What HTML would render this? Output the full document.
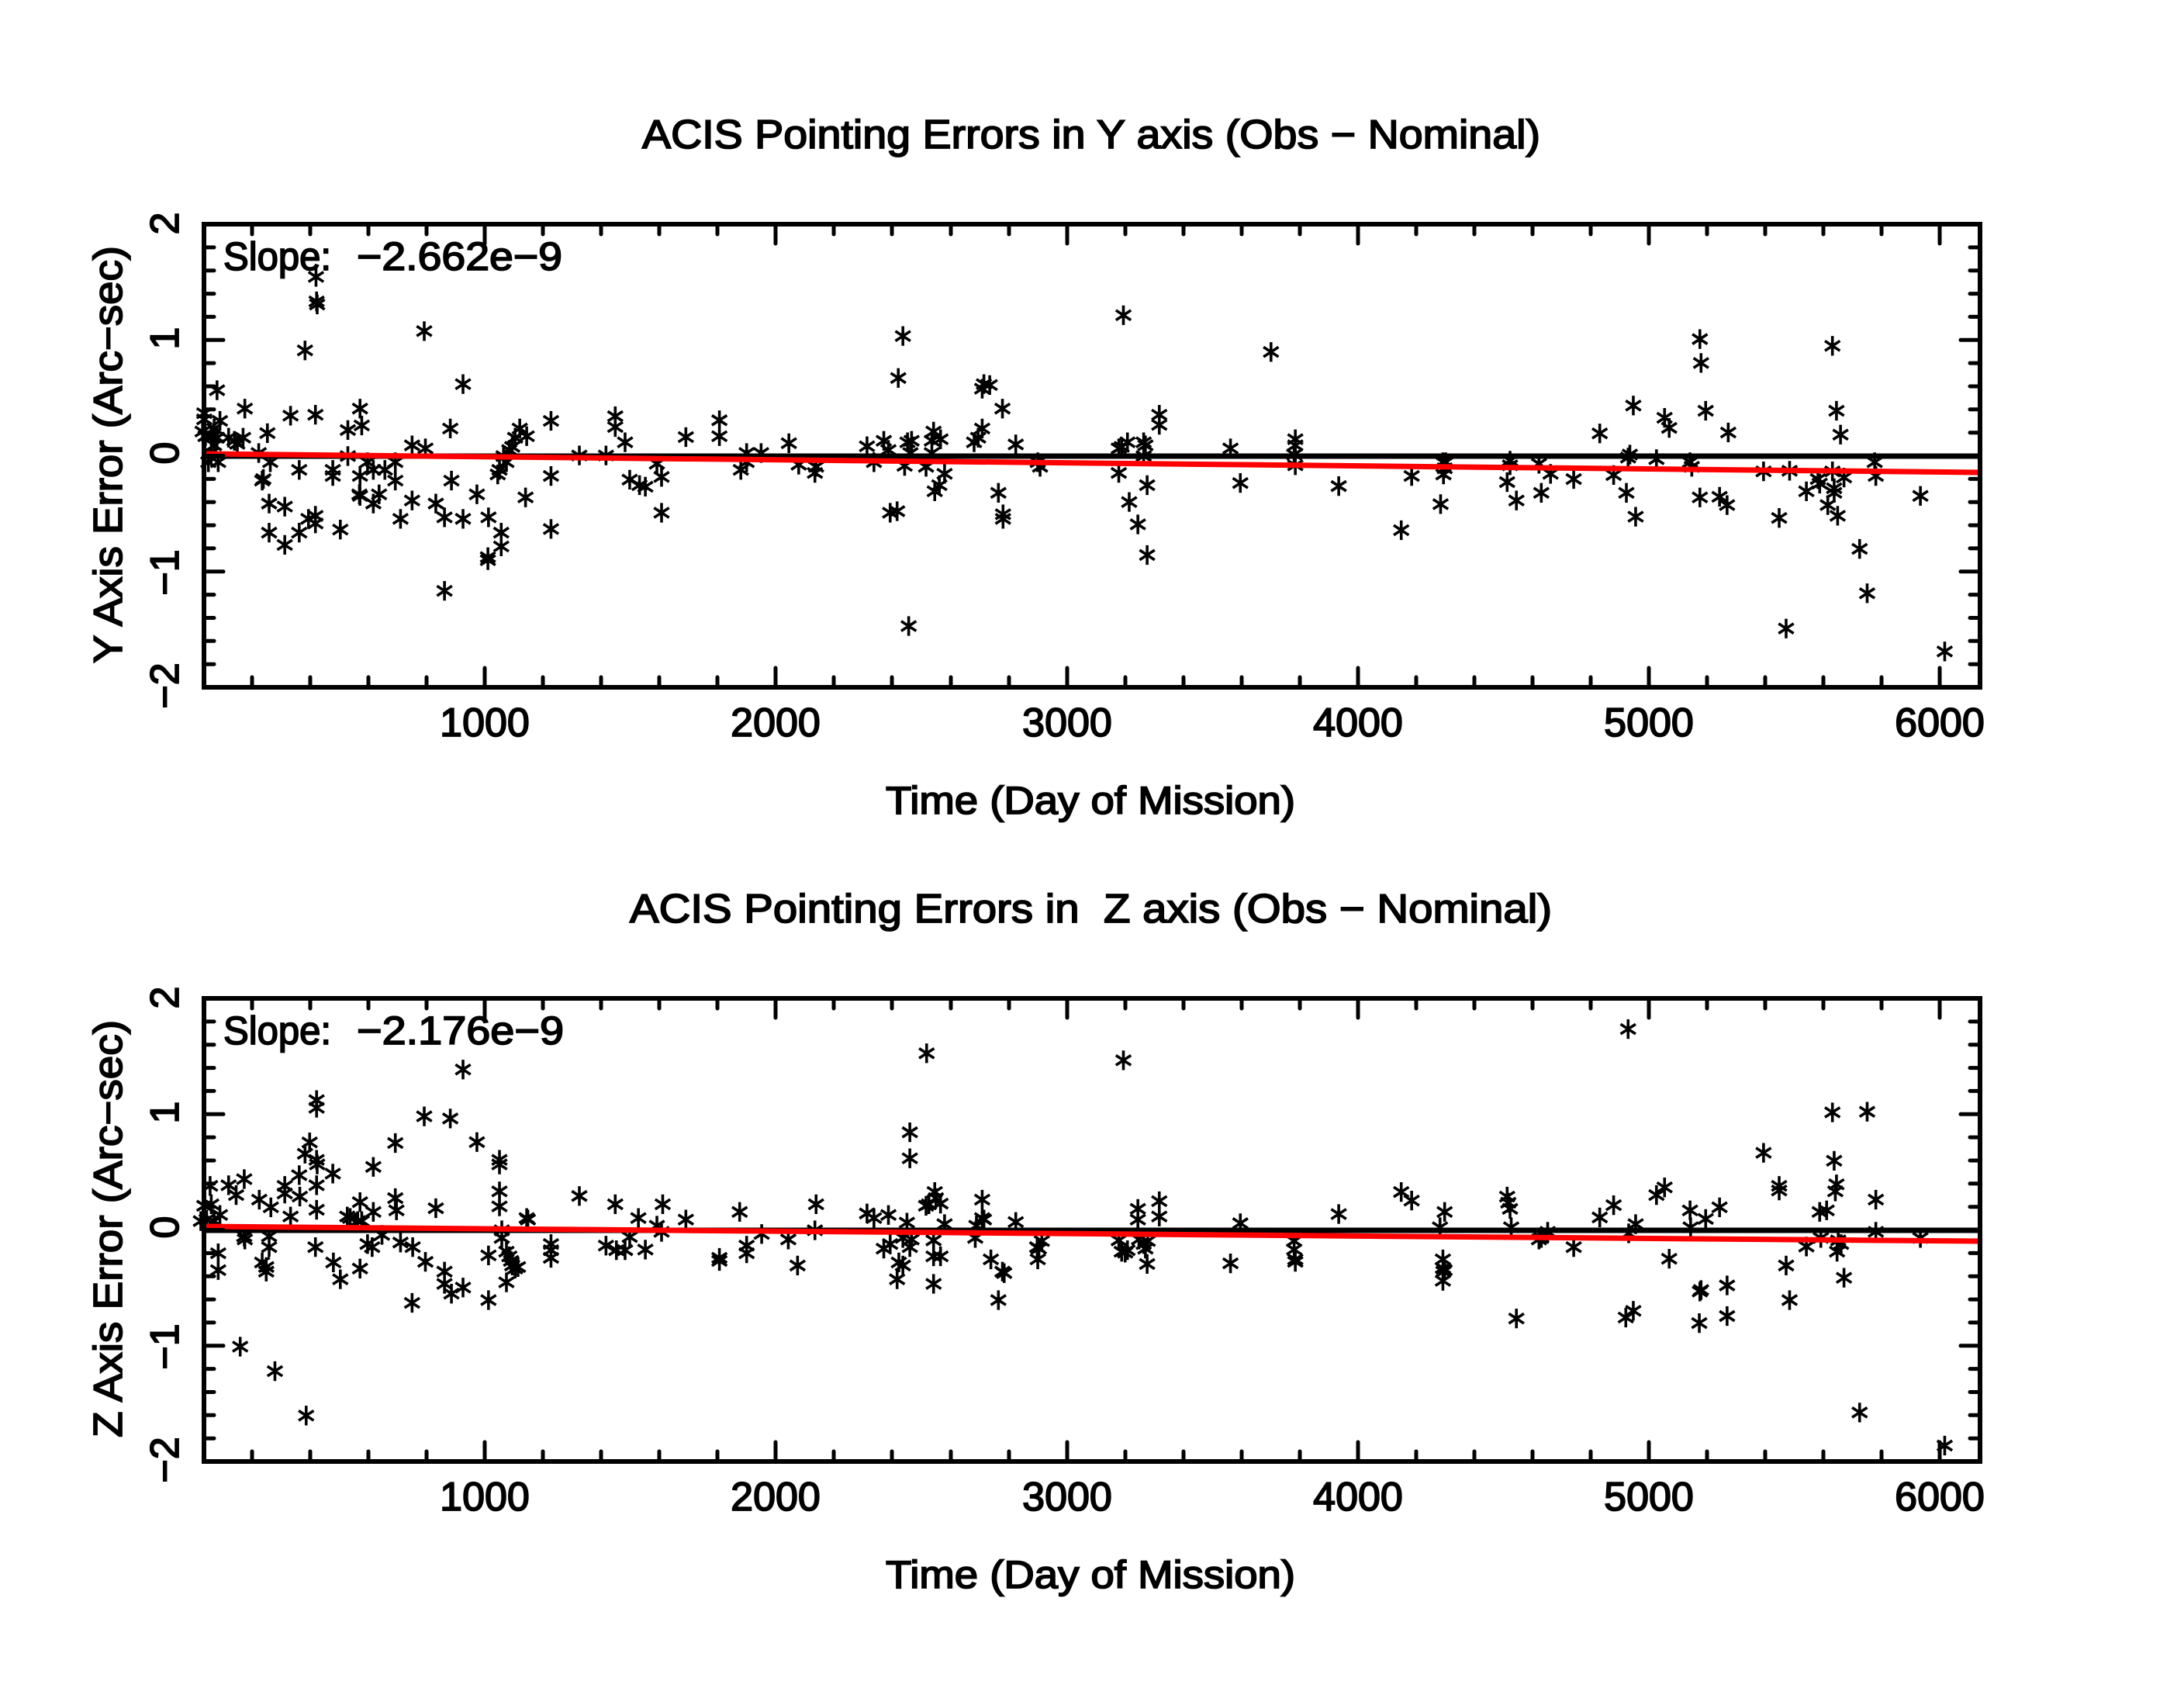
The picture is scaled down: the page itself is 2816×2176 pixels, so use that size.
<!DOCTYPE html>
<html><head><meta charset="utf-8"><style>
html,body{margin:0;padding:0;background:#fff}
svg{display:block}
text{font-family:"Liberation Sans",Arial,sans-serif;fill:#000;stroke:#000;stroke-width:1.8;white-space:pre}
.ast{fill:none;stroke:#000;stroke-width:3.6;vector-effect:non-scaling-stroke}
</style></head><body>
<svg width="2816" height="2176" viewBox="0 0 2816 2176" xmlns="http://www.w3.org/2000/svg">
<rect width="2816" height="2176" fill="#fff"/>

<!-- Titles -->
<text x="828" y="191" font-size="52" textLength="1158" lengthAdjust="spacingAndGlyphs">ACIS Pointing Errors in Y axis (Obs − Nominal)</text>
<text x="812" y="1189" font-size="52" textLength="1189" lengthAdjust="spacingAndGlyphs">ACIS Pointing Errors in  Z axis (Obs − Nominal)</text>

<!-- Data: top-left -->
<g transform="translate(250,280) scale(0.74627,0.39479)">
<path class="ast" d="M18 640m0-32v64m-13-48l26 32m-26 0l26-32M18 660m0-32v64m-13-48l26 32m-26 0l26-32M15 700m0-32v64m-13-48l26 32m-26 0l26-32M20 715m0-32v64m-13-48l26 32m-26 0l26-32M35 690m0-32v64m-13-48l26 32m-26 0l26-32M40 565m0-32v64m-13-48l26 32m-26 0l26-32M45 665m0-32v64m-13-48l26 32m-26 0l26-32M30 720m0-32v64m-13-48l26 32m-26 0l26-32M40 720m0-32v64m-13-48l26 32m-26 0l26-32M35 745m0-32v64m-13-48l26 32m-26 0l26-32M25 800m0-32v64m-13-48l26 32m-26 0l26-32M42 800m0-32v64m-13-48l26 32m-26 0l26-32M30 770m0-32v64m-13-48l26 32m-26 0l26-32M60 720m0-32v64m-13-48l26 32m-26 0l26-32M75 740m0-32v64m-13-48l26 32m-26 0l26-32M85 720m0-32v64m-13-48l26 32m-26 0l26-32M88 625m0-32v64m-13-48l26 32m-26 0l26-32M70 730m0-32v64m-13-48l26 32m-26 0l26-32M127 705m0-32v64m-13-48l26 32m-26 0l26-32M112 770m0-32v64m-13-48l26 32m-26 0l26-32M132 800m0-32v64m-13-48l26 32m-26 0l26-32M120 855m0-32v64m-13-48l26 32m-26 0l26-32M118 860m0-32v64m-13-48l26 32m-26 0l26-32M130 935m0-32v64m-13-48l26 32m-26 0l26-32M130 1030m0-32v64m-13-48l26 32m-26 0l26-32M157 945m0-32v64m-13-48l26 32m-26 0l26-32M157 1070m0-32v64m-13-48l26 32m-26 0l26-32M167 648m0-32v64m-13-48l26 32m-26 0l26-32M182 825m0-32v64m-13-48l26 32m-26 0l26-32M182 1030m0-32v64m-13-48l26 32m-26 0l26-32M192 435m0-32v64m-13-48l26 32m-26 0l26-32M198 985m0-32v64m-13-48l26 32m-26 0l26-32M210 975m0-32v64m-13-48l26 32m-26 0l26-32M210 1000m0-32v64m-13-48l26 32m-26 0l26-32M210 645m0-32v64m-13-48l26 32m-26 0l26-32M211 195m0-32v64m-13-48l26 32m-26 0l26-32M212 275m0-32v64m-13-48l26 32m-26 0l26-32M213 285m0-32v64m-13-48l26 32m-26 0l26-32M240 825m0-32v64m-13-48l26 32m-26 0l26-32M240 845m0-32v64m-13-48l26 32m-26 0l26-32M253 1020m0-32v64m-13-48l26 32m-26 0l26-32M266 695m0-32v64m-13-48l26 32m-26 0l26-32M266 780m0-32v64m-13-48l26 32m-26 0l26-32M287 625m0-32v64m-13-48l26 32m-26 0l26-32M290 680m0-32v64m-13-48l26 32m-26 0l26-32M287 845m0-32v64m-13-48l26 32m-26 0l26-32M286 905m0-32v64m-13-48l26 32m-26 0l26-32M287 910m0-32v64m-13-48l26 32m-26 0l26-32M300 800m0-32v64m-13-48l26 32m-26 0l26-32M310 825m0-32v64m-13-48l26 32m-26 0l26-32M310 935m0-32v64m-13-48l26 32m-26 0l26-32M320 905m0-32v64m-13-48l26 32m-26 0l26-32M330 825m0-32v64m-13-48l26 32m-26 0l26-32M348 800m0-32v64m-13-48l26 32m-26 0l26-32M348 860m0-32v64m-13-48l26 32m-26 0l26-32M357 985m0-32v64m-13-48l26 32m-26 0l26-32M377 745m0-32v64m-13-48l26 32m-26 0l26-32M377 925m0-32v64m-13-48l26 32m-26 0l26-32M398 372m0-32v64m-13-48l26 32m-26 0l26-32M400 755m0-32v64m-13-48l26 32m-26 0l26-32M418 935m0-32v64m-13-48l26 32m-26 0l26-32M433 980m0-32v64m-13-48l26 32m-26 0l26-32M433 1220m0-32v64m-13-48l26 32m-26 0l26-32M443 690m0-32v64m-13-48l26 32m-26 0l26-32M445 860m0-32v64m-13-48l26 32m-26 0l26-32M465 545m0-32v64m-13-48l26 32m-26 0l26-32M465 985m0-32v64m-13-48l26 32m-26 0l26-32M489 905m0-32v64m-13-48l26 32m-26 0l26-32M509 980m0-32v64m-13-48l26 32m-26 0l26-32M508 1110m0-32v64m-13-48l26 32m-26 0l26-32M508 1120m0-32v64m-13-48l26 32m-26 0l26-32M525 840m0-32v64m-13-48l26 32m-26 0l26-32M528 825m0-32v64m-13-48l26 32m-26 0l26-32M531 1030m0-32v64m-13-48l26 32m-26 0l26-32M531 1075m0-32v64m-13-48l26 32m-26 0l26-32M535 780m0-32v64m-13-48l26 32m-26 0l26-32M540 800m0-32v64m-13-48l26 32m-26 0l26-32M545 760m0-32v64m-13-48l26 32m-26 0l26-32M550 750m0-32v64m-13-48l26 32m-26 0l26-32M555 720m0-32v64m-13-48l26 32m-26 0l26-32M563 690m0-32v64m-13-48l26 32m-26 0l26-32M575 715m0-32v64m-13-48l26 32m-26 0l26-32M573 915m0-32v64m-13-48l26 32m-26 0l26-32M617 665m0-32v64m-13-48l26 32m-26 0l26-32M617 845m0-32v64m-13-48l26 32m-26 0l26-32M617 1018m0-32v64m-13-48l26 32m-26 0l26-32M666 778m0-32v64m-13-48l26 32m-26 0l26-32M712 778m0-32v64m-13-48l26 32m-26 0l26-32M728 650m0-32v64m-13-48l26 32m-26 0l26-32M728 685m0-32v64m-13-48l26 32m-26 0l26-32M745 735m0-32v64m-13-48l26 32m-26 0l26-32M753 857m0-32v64m-13-48l26 32m-26 0l26-32M770 875m0-32v64m-13-48l26 32m-26 0l26-32M780 880m0-32v64m-13-48l26 32m-26 0l26-32M800 805m0-32v64m-13-48l26 32m-26 0l26-32M808 848m0-32v64m-13-48l26 32m-26 0l26-32M808 965m0-32v64m-13-48l26 32m-26 0l26-32M850 718m0-32v64m-13-48l26 32m-26 0l26-32M908 663m0-32v64m-13-48l26 32m-26 0l26-32M908 715m0-32v64m-13-48l26 32m-26 0l26-32M945 825m0-32v64m-13-48l26 32m-26 0l26-32M955 770m0-32v64m-13-48l26 32m-26 0l26-32M955 800m0-32v64m-13-48l26 32m-26 0l26-32M980 770m0-32v64m-13-48l26 32m-26 0l26-32M1028 738m0-32v64m-13-48l26 32m-26 0l26-32M1045 808m0-32v64m-13-48l26 32m-26 0l26-32M1075 815m0-32v64m-13-48l26 32m-26 0l26-32M1073 835m0-32v64m-13-48l26 32m-26 0l26-32M1163 748m0-32v64m-13-48l26 32m-26 0l26-32M1175 800m0-32v64m-13-48l26 32m-26 0l26-32M1192 730m0-32v64m-13-48l26 32m-26 0l26-32M1200 760m0-32v64m-13-48l26 32m-26 0l26-32M1203 965m0-32v64m-13-48l26 32m-26 0l26-32M1215 960m0-32v64m-13-48l26 32m-26 0l26-32M1217 525m0-32v64m-13-48l26 32m-26 0l26-32M1225 388m0-32v64m-13-48l26 32m-26 0l26-32M1228 812m0-32v64m-13-48l26 32m-26 0l26-32M1233 735m0-32v64m-13-48l26 32m-26 0l26-32M1240 730m0-32v64m-13-48l26 32m-26 0l26-32M1238 770m0-32v64m-13-48l26 32m-26 0l26-32M1265 815m0-32v64m-13-48l26 32m-26 0l26-32M1275 770m0-32v64m-13-48l26 32m-26 0l26-32M1278 700m0-32v64m-13-48l26 32m-26 0l26-32M1275 730m0-32v64m-13-48l26 32m-26 0l26-32M1290 725m0-32v64m-13-48l26 32m-26 0l26-32M1280 895m0-32v64m-13-48l26 32m-26 0l26-32M1288 875m0-32v64m-13-48l26 32m-26 0l26-32M1297 838m0-32v64m-13-48l26 32m-26 0l26-32M1235 1335m0-32v64m-13-48l26 32m-26 0l26-32M1348 735m0-32v64m-13-48l26 32m-26 0l26-32M1355 720m0-32v64m-13-48l26 32m-26 0l26-32M1362 690m0-32v64m-13-48l26 32m-26 0l26-32M1362 560m0-32v64m-13-48l26 32m-26 0l26-32M1365 545m0-32v64m-13-48l26 32m-26 0l26-32M1375 548m0-32v64m-13-48l26 32m-26 0l26-32M1390 900m0-32v64m-13-48l26 32m-26 0l26-32M1397 625m0-32v64m-13-48l26 32m-26 0l26-32M1398 970m0-32v64m-13-48l26 32m-26 0l26-32M1398 985m0-32v64m-13-48l26 32m-26 0l26-32M1420 742m0-32v64m-13-48l26 32m-26 0l26-32M1458 800m0-32v64m-13-48l26 32m-26 0l26-32M1462 815m0-32v64m-13-48l26 32m-26 0l26-32"/>
</g>

<!-- Data: top-right -->
<g transform="translate(1400,280) scale(0.74627,0.39479)">
<path class="ast" d="M57 755m0-32v64m-13-48l26 32m-26 0l26-32M62 750m0-32v64m-13-48l26 32m-26 0l26-32M65 320m0-32v64m-13-48l26 32m-26 0l26-32M72 735m0-32v64m-13-48l26 32m-26 0l26-32M57 835m0-32v64m-13-48l26 32m-26 0l26-32M75 930m0-32v64m-13-48l26 32m-26 0l26-32M90 1003m0-32v64m-13-48l26 32m-26 0l26-32M100 735m0-32v64m-13-48l26 32m-26 0l26-32M103 745m0-32v64m-13-48l26 32m-26 0l26-32M100 780m0-32v64m-13-48l26 32m-26 0l26-32M106 875m0-32v64m-13-48l26 32m-26 0l26-32M106 1103m0-32v64m-13-48l26 32m-26 0l26-32M127 645m0-32v64m-13-48l26 32m-26 0l26-32M127 678m0-32v64m-13-48l26 32m-26 0l26-32M250 755m0-32v64m-13-48l26 32m-26 0l26-32M267 868m0-32v64m-13-48l26 32m-26 0l26-32M320 440m0-32v64m-13-48l26 32m-26 0l26-32M362 725m0-32v64m-13-48l26 32m-26 0l26-32M362 745m0-32v64m-13-48l26 32m-26 0l26-32M360 775m0-32v64m-13-48l26 32m-26 0l26-32M362 810m0-32v64m-13-48l26 32m-26 0l26-32M437 878m0-32v64m-13-48l26 32m-26 0l26-32M545 1022m0-32v64m-13-48l26 32m-26 0l26-32M563 845m0-32v64m-13-48l26 32m-26 0l26-32M613 937m0-32v64m-13-48l26 32m-26 0l26-32M617 800m0-32v64m-13-48l26 32m-26 0l26-32M620 820m0-32v64m-13-48l26 32m-26 0l26-32M618 840m0-32v64m-13-48l26 32m-26 0l26-32M622 800m0-32v64m-13-48l26 32m-26 0l26-32M728 865m0-32v64m-13-48l26 32m-26 0l26-32M733 795m0-32v64m-13-48l26 32m-26 0l26-32M733 810m0-32v64m-13-48l26 32m-26 0l26-32M744 925m0-32v64m-13-48l26 32m-26 0l26-32M783 805m0-32v64m-13-48l26 32m-26 0l26-32M787 900m0-32v64m-13-48l26 32m-26 0l26-32M803 838m0-32v64m-13-48l26 32m-26 0l26-32M843 855m0-32v64m-13-48l26 32m-26 0l26-32M888 706m0-32v64m-13-48l26 32m-26 0l26-32M912 842m0-32v64m-13-48l26 32m-26 0l26-32M934 900m0-32v64m-13-48l26 32m-26 0l26-32M937 785m0-32v64m-13-48l26 32m-26 0l26-32M940 775m0-32v64m-13-48l26 32m-26 0l26-32M946 615m0-32v64m-13-48l26 32m-26 0l26-32M950 978m0-32v64m-13-48l26 32m-26 0l26-32M986 790m0-32v64m-13-48l26 32m-26 0l26-32M1000 655m0-32v64m-13-48l26 32m-26 0l26-32M1008 688m0-32v64m-13-48l26 32m-26 0l26-32M1044 800m0-32v64m-13-48l26 32m-26 0l26-32M1047 815m0-32v64m-13-48l26 32m-26 0l26-32M1061 398m0-32v64m-13-48l26 32m-26 0l26-32M1063 476m0-32v64m-13-48l26 32m-26 0l26-32M1061 915m0-32v64m-13-48l26 32m-26 0l26-32M1071 632m0-32v64m-13-48l26 32m-26 0l26-32M1095 913m0-32v64m-13-48l26 32m-26 0l26-32M1108 940m0-32v64m-13-48l26 32m-26 0l26-32M1110 703m0-32v64m-13-48l26 32m-26 0l26-32M1171 830m0-32v64m-13-48l26 32m-26 0l26-32M1198 982m0-32v64m-13-48l26 32m-26 0l26-32M1210 1343m0-32v64m-13-48l26 32m-26 0l26-32M1216 828m0-32v64m-13-48l26 32m-26 0l26-32M1245 895m0-32v64m-13-48l26 32m-26 0l26-32M1265 855m0-32v64m-13-48l26 32m-26 0l26-32M1268 870m0-32v64m-13-48l26 32m-26 0l26-32M1282 940m0-32v64m-13-48l26 32m-26 0l26-32M1290 420m0-32v64m-13-48l26 32m-26 0l26-32M1290 830m0-32v64m-13-48l26 32m-26 0l26-32M1293 900m0-32v64m-13-48l26 32m-26 0l26-32M1293 885m0-32v64m-13-48l26 32m-26 0l26-32M1297 632m0-32v64m-13-48l26 32m-26 0l26-32M1299 975m0-32v64m-13-48l26 32m-26 0l26-32M1304 710m0-32v64m-13-48l26 32m-26 0l26-32M1310 850m0-32v64m-13-48l26 32m-26 0l26-32M1337 1083m0-32v64m-13-48l26 32m-26 0l26-32M1350 1228m0-32v64m-13-48l26 32m-26 0l26-32M1363 800m0-32v64m-13-48l26 32m-26 0l26-32M1365 845m0-32v64m-13-48l26 32m-26 0l26-32M1442 910m0-32v64m-13-48l26 32m-26 0l26-32M1484 1418m0-32v64m-13-48l26 32m-26 0l26-32"/>
</g>

<!-- Data: bottom-left -->
<g transform="translate(250,1280) scale(0.74627,0.39479)">
<path class="ast" d="M12 745m0-32v64m-13-48l26 32m-26 0l26-32M18 695m0-32v64m-13-48l26 32m-26 0l26-32M22 740m0-32v64m-13-48l26 32m-26 0l26-32M28 630m0-32v64m-13-48l26 32m-26 0l26-32M30 690m0-32v64m-13-48l26 32m-26 0l26-32M35 745m0-32v64m-13-48l26 32m-26 0l26-32M45 725m0-32v64m-13-48l26 32m-26 0l26-32M42 850m0-32v64m-13-48l26 32m-26 0l26-32M42 905m0-32v64m-13-48l26 32m-26 0l26-32M60 628m0-32v64m-13-48l26 32m-26 0l26-32M73 660m0-32v64m-13-48l26 32m-26 0l26-32M87 608m0-32v64m-13-48l26 32m-26 0l26-32M87 795m0-32v64m-13-48l26 32m-26 0l26-32M88 805m0-32v64m-13-48l26 32m-26 0l26-32M80 1155m0-32v64m-13-48l26 32m-26 0l26-32M113 675m0-32v64m-13-48l26 32m-26 0l26-32M118 880m0-32v64m-13-48l26 32m-26 0l26-32M125 895m0-32v64m-13-48l26 32m-26 0l26-32M125 910m0-32v64m-13-48l26 32m-26 0l26-32M133 700m0-32v64m-13-48l26 32m-26 0l26-32M130 795m0-32v64m-13-48l26 32m-26 0l26-32M130 830m0-32v64m-13-48l26 32m-26 0l26-32M140 1235m0-32v64m-13-48l26 32m-26 0l26-32M157 630m0-32v64m-13-48l26 32m-26 0l26-32M157 655m0-32v64m-13-48l26 32m-26 0l26-32M167 730m0-32v64m-13-48l26 32m-26 0l26-32M182 595m0-32v64m-13-48l26 32m-26 0l26-32M183 665m0-32v64m-13-48l26 32m-26 0l26-32M192 525m0-32v64m-13-48l26 32m-26 0l26-32M200 488m0-32v64m-13-48l26 32m-26 0l26-32M212 350m0-32v64m-13-48l26 32m-26 0l26-32M212 375m0-32v64m-13-48l26 32m-26 0l26-32M212 545m0-32v64m-13-48l26 32m-26 0l26-32M213 560m0-32v64m-13-48l26 32m-26 0l26-32M212 628m0-32v64m-13-48l26 32m-26 0l26-32M212 708m0-32v64m-13-48l26 32m-26 0l26-32M210 830m0-32v64m-13-48l26 32m-26 0l26-32M194 1380m0-32v64m-13-48l26 32m-26 0l26-32M240 590m0-32v64m-13-48l26 32m-26 0l26-32M241 880m0-32v64m-13-48l26 32m-26 0l26-32M253 935m0-32v64m-13-48l26 32m-26 0l26-32M265 730m0-32v64m-13-48l26 32m-26 0l26-32M270 735m0-32v64m-13-48l26 32m-26 0l26-32M283 745m0-32v64m-13-48l26 32m-26 0l26-32M287 683m0-32v64m-13-48l26 32m-26 0l26-32M290 745m0-32v64m-13-48l26 32m-26 0l26-32M287 900m0-32v64m-13-48l26 32m-26 0l26-32M300 820m0-32v64m-13-48l26 32m-26 0l26-32M308 830m0-32v64m-13-48l26 32m-26 0l26-32M310 715m0-32v64m-13-48l26 32m-26 0l26-32M310 568m0-32v64m-13-48l26 32m-26 0l26-32M325 790m0-32v64m-13-48l26 32m-26 0l26-32M348 490m0-32v64m-13-48l26 32m-26 0l26-32M348 670m0-32v64m-13-48l26 32m-26 0l26-32M350 710m0-32v64m-13-48l26 32m-26 0l26-32M357 815m0-32v64m-13-48l26 32m-26 0l26-32M378 830m0-32v64m-13-48l26 32m-26 0l26-32M377 1012m0-32v64m-13-48l26 32m-26 0l26-32M398 403m0-32v64m-13-48l26 32m-26 0l26-32M400 878m0-32v64m-13-48l26 32m-26 0l26-32M418 703m0-32v64m-13-48l26 32m-26 0l26-32M433 910m0-32v64m-13-48l26 32m-26 0l26-32M433 950m0-32v64m-13-48l26 32m-26 0l26-32M445 982m0-32v64m-13-48l26 32m-26 0l26-32M443 410m0-32v64m-13-48l26 32m-26 0l26-32M465 250m0-32v64m-13-48l26 32m-26 0l26-32M465 962m0-32v64m-13-48l26 32m-26 0l26-32M489 487m0-32v64m-13-48l26 32m-26 0l26-32M509 857m0-32v64m-13-48l26 32m-26 0l26-32M509 1003m0-32v64m-13-48l26 32m-26 0l26-32M528 545m0-32v64m-13-48l26 32m-26 0l26-32M528 560m0-32v64m-13-48l26 32m-26 0l26-32M528 648m0-32v64m-13-48l26 32m-26 0l26-32M528 697m0-32v64m-13-48l26 32m-26 0l26-32M532 775m0-32v64m-13-48l26 32m-26 0l26-32M532 800m0-32v64m-13-48l26 32m-26 0l26-32M540 845m0-32v64m-13-48l26 32m-26 0l26-32M540 945m0-32v64m-13-48l26 32m-26 0l26-32M545 860m0-32v64m-13-48l26 32m-26 0l26-32M548 875m0-32v64m-13-48l26 32m-26 0l26-32M550 890m0-32v64m-13-48l26 32m-26 0l26-32M555 900m0-32v64m-13-48l26 32m-26 0l26-32M560 895m0-32v64m-13-48l26 32m-26 0l26-32M575 735m0-32v64m-13-48l26 32m-26 0l26-32M577 740m0-32v64m-13-48l26 32m-26 0l26-32M617 820m0-32v64m-13-48l26 32m-26 0l26-32M617 840m0-32v64m-13-48l26 32m-26 0l26-32M617 865m0-32v64m-13-48l26 32m-26 0l26-32M666 663m0-32v64m-13-48l26 32m-26 0l26-32M712 825m0-32v64m-13-48l26 32m-26 0l26-32M728 690m0-32v64m-13-48l26 32m-26 0l26-32M730 840m0-32v64m-13-48l26 32m-26 0l26-32M745 840m0-32v64m-13-48l26 32m-26 0l26-32M753 797m0-32v64m-13-48l26 32m-26 0l26-32M768 735m0-32v64m-13-48l26 32m-26 0l26-32M780 838m0-32v64m-13-48l26 32m-26 0l26-32M800 760m0-32v64m-13-48l26 32m-26 0l26-32M808 780m0-32v64m-13-48l26 32m-26 0l26-32M810 690m0-32v64m-13-48l26 32m-26 0l26-32M850 740m0-32v64m-13-48l26 32m-26 0l26-32M908 865m0-32v64m-13-48l26 32m-26 0l26-32M908 875m0-32v64m-13-48l26 32m-26 0l26-32M943 715m0-32v64m-13-48l26 32m-26 0l26-32M955 825m0-32v64m-13-48l26 32m-26 0l26-32M955 850m0-32v64m-13-48l26 32m-26 0l26-32M981 787m0-32v64m-13-48l26 32m-26 0l26-32M1027 805m0-32v64m-13-48l26 32m-26 0l26-32M1043 890m0-32v64m-13-48l26 32m-26 0l26-32M1075 690m0-32v64m-13-48l26 32m-26 0l26-32M1073 775m0-32v64m-13-48l26 32m-26 0l26-32M1163 720m0-32v64m-13-48l26 32m-26 0l26-32M1175 735m0-32v64m-13-48l26 32m-26 0l26-32M1192 835m0-32v64m-13-48l26 32m-26 0l26-32M1200 725m0-32v64m-13-48l26 32m-26 0l26-32M1203 820m0-32v64m-13-48l26 32m-26 0l26-32M1215 935m0-32v64m-13-48l26 32m-26 0l26-32M1218 880m0-32v64m-13-48l26 32m-26 0l26-32M1225 890m0-32v64m-13-48l26 32m-26 0l26-32M1225 800m0-32v64m-13-48l26 32m-26 0l26-32M1232 750m0-32v64m-13-48l26 32m-26 0l26-32M1237 455m0-32v64m-13-48l26 32m-26 0l26-32M1237 540m0-32v64m-13-48l26 32m-26 0l26-32M1240 805m0-32v64m-13-48l26 32m-26 0l26-32M1237 830m0-32v64m-13-48l26 32m-26 0l26-32M1266 197m0-32v64m-13-48l26 32m-26 0l26-32M1265 695m0-32v64m-13-48l26 32m-26 0l26-32M1270 690m0-32v64m-13-48l26 32m-26 0l26-32M1278 808m0-32v64m-13-48l26 32m-26 0l26-32M1278 860m0-32v64m-13-48l26 32m-26 0l26-32M1278 950m0-32v64m-13-48l26 32m-26 0l26-32M1280 650m0-32v64m-13-48l26 32m-26 0l26-32M1282 670m0-32v64m-13-48l26 32m-26 0l26-32M1290 688m0-32v64m-13-48l26 32m-26 0l26-32M1290 860m0-32v64m-13-48l26 32m-26 0l26-32M1297 755m0-32v64m-13-48l26 32m-26 0l26-32M1350 800m0-32v64m-13-48l26 32m-26 0l26-32M1352 760m0-32v64m-13-48l26 32m-26 0l26-32M1362 675m0-32v64m-13-48l26 32m-26 0l26-32M1362 735m0-32v64m-13-48l26 32m-26 0l26-32M1365 740m0-32v64m-13-48l26 32m-26 0l26-32M1377 870m0-32v64m-13-48l26 32m-26 0l26-32M1390 1003m0-32v64m-13-48l26 32m-26 0l26-32M1397 910m0-32v64m-13-48l26 32m-26 0l26-32M1400 915m0-32v64m-13-48l26 32m-26 0l26-32M1420 748m0-32v64m-13-48l26 32m-26 0l26-32M1457 830m0-32v64m-13-48l26 32m-26 0l26-32M1460 835m0-32v64m-13-48l26 32m-26 0l26-32M1458 870m0-32v64m-13-48l26 32m-26 0l26-32M1465 810m0-32v64m-13-48l26 32m-26 0l26-32"/>
</g>

<!-- Data: bottom-right -->
<g transform="translate(1400,1280) scale(0.74627,0.39479)">
<path class="ast" d="M65 220m0-32v64m-13-48l26 32m-26 0l26-32M57 808m0-32v64m-13-48l26 32m-26 0l26-32M62 845m0-32v64m-13-48l26 32m-26 0l26-32M68 848m0-32v64m-13-48l26 32m-26 0l26-32M72 840m0-32v64m-13-48l26 32m-26 0l26-32M90 705m0-32v64m-13-48l26 32m-26 0l26-32M90 740m0-32v64m-13-48l26 32m-26 0l26-32M92 805m0-32v64m-13-48l26 32m-26 0l26-32M100 820m0-32v64m-13-48l26 32m-26 0l26-32M103 835m0-32v64m-13-48l26 32m-26 0l26-32M107 810m0-32v64m-13-48l26 32m-26 0l26-32M106 885m0-32v64m-13-48l26 32m-26 0l26-32M127 680m0-32v64m-13-48l26 32m-26 0l26-32M127 730m0-32v64m-13-48l26 32m-26 0l26-32M250 883m0-32v64m-13-48l26 32m-26 0l26-32M267 752m0-32v64m-13-48l26 32m-26 0l26-32M360 810m0-32v64m-13-48l26 32m-26 0l26-32M360 838m0-32v64m-13-48l26 32m-26 0l26-32M362 870m0-32v64m-13-48l26 32m-26 0l26-32M362 878m0-32v64m-13-48l26 32m-26 0l26-32M437 722m0-32v64m-13-48l26 32m-26 0l26-32M545 650m0-32v64m-13-48l26 32m-26 0l26-32M563 678m0-32v64m-13-48l26 32m-26 0l26-32M612 765m0-32v64m-13-48l26 32m-26 0l26-32M617 870m0-32v64m-13-48l26 32m-26 0l26-32M617 898m0-32v64m-13-48l26 32m-26 0l26-32M618 910m0-32v64m-13-48l26 32m-26 0l26-32M620 905m0-32v64m-13-48l26 32m-26 0l26-32M617 940m0-32v64m-13-48l26 32m-26 0l26-32M620 715m0-32v64m-13-48l26 32m-26 0l26-32M728 665m0-32v64m-13-48l26 32m-26 0l26-32M730 685m0-32v64m-13-48l26 32m-26 0l26-32M733 705m0-32v64m-13-48l26 32m-26 0l26-32M735 765m0-32v64m-13-48l26 32m-26 0l26-32M744 1063m0-32v64m-13-48l26 32m-26 0l26-32M783 805m0-32v64m-13-48l26 32m-26 0l26-32M787 800m0-32v64m-13-48l26 32m-26 0l26-32M798 780m0-32v64m-13-48l26 32m-26 0l26-32M843 830m0-32v64m-13-48l26 32m-26 0l26-32M888 733m0-32v64m-13-48l26 32m-26 0l26-32M912 693m0-32v64m-13-48l26 32m-26 0l26-32M933 1060m0-32v64m-13-48l26 32m-26 0l26-32M937 118m0-32v64m-13-48l26 32m-26 0l26-32M938 785m0-32v64m-13-48l26 32m-26 0l26-32M946 1038m0-32v64m-13-48l26 32m-26 0l26-32M950 755m0-32v64m-13-48l26 32m-26 0l26-32M986 660m0-32v64m-13-48l26 32m-26 0l26-32M1000 635m0-32v64m-13-48l26 32m-26 0l26-32M1008 868m0-32v64m-13-48l26 32m-26 0l26-32M1044 710m0-32v64m-13-48l26 32m-26 0l26-32M1045 765m0-32v64m-13-48l26 32m-26 0l26-32M1060 1078m0-32v64m-13-48l26 32m-26 0l26-32M1061 975m0-32v64m-13-48l26 32m-26 0l26-32M1063 970m0-32v64m-13-48l26 32m-26 0l26-32M1071 738m0-32v64m-13-48l26 32m-26 0l26-32M1095 700m0-32v64m-13-48l26 32m-26 0l26-32M1108 955m0-32v64m-13-48l26 32m-26 0l26-32M1108 1055m0-32v64m-13-48l26 32m-26 0l26-32M1171 522m0-32v64m-13-48l26 32m-26 0l26-32M1198 630m0-32v64m-13-48l26 32m-26 0l26-32M1198 645m0-32v64m-13-48l26 32m-26 0l26-32M1210 890m0-32v64m-13-48l26 32m-26 0l26-32M1216 1003m0-32v64m-13-48l26 32m-26 0l26-32M1245 828m0-32v64m-13-48l26 32m-26 0l26-32M1268 715m0-32v64m-13-48l26 32m-26 0l26-32M1270 800m0-32v64m-13-48l26 32m-26 0l26-32M1280 710m0-32v64m-13-48l26 32m-26 0l26-32M1290 390m0-32v64m-13-48l26 32m-26 0l26-32M1293 548m0-32v64m-13-48l26 32m-26 0l26-32M1297 625m0-32v64m-13-48l26 32m-26 0l26-32M1295 648m0-32v64m-13-48l26 32m-26 0l26-32M1298 845m0-32v64m-13-48l26 32m-26 0l26-32M1300 808m0-32v64m-13-48l26 32m-26 0l26-32M1305 820m0-32v64m-13-48l26 32m-26 0l26-32M1310 930m0-32v64m-13-48l26 32m-26 0l26-32M1337 1370m0-32v64m-13-48l26 32m-26 0l26-32M1350 388m0-32v64m-13-48l26 32m-26 0l26-32M1365 675m0-32v64m-13-48l26 32m-26 0l26-32M1365 780m0-32v64m-13-48l26 32m-26 0l26-32M1442 800m0-32v64m-13-48l26 32m-26 0l26-32M1484 1478m0-32v64m-13-48l26 32m-26 0l26-32"/>
</g>

<!-- Zero lines -->
<path d="M263 588H2553M263 1586H2553" stroke="#000" stroke-width="7" fill="none"/>
<!-- Fit lines -->
<path d="M263 585L2553 609" stroke="#ff0000" stroke-width="7" fill="none"/>
<path d="M263 1581L2553 1600" stroke="#ff0000" stroke-width="7" fill="none"/>

<!-- Frames -->
<rect x="263" y="289" width="2290" height="597" fill="none" stroke="#000" stroke-width="6"/>
<rect x="263" y="1287" width="2290" height="597" fill="none" stroke="#000" stroke-width="6"/>

<!-- Ticks top plot -->
<path stroke="#000" stroke-width="5" stroke-linecap="round" fill="none" d="
M325 886V873M325 289V302M400 886V873M400 289V302M475 886V873M475 289V302M550 886V873M550 289V302M625 886V861M625 289V314
M700 886V873M700 289V302M775 886V873M775 289V302M850 886V873M850 289V302M925 886V873M925 289V302M1000 886V861M1000 289V314
M1075 886V873M1075 289V302M1150 886V873M1150 289V302M1226 886V873M1226 289V302M1301 886V873M1301 289V302M1376 886V861M1376 289V314
M1451 886V873M1451 289V302M1526 886V873M1526 289V302M1601 886V873M1601 289V302M1676 886V873M1676 289V302M1751 886V861M1751 289V314
M1826 886V873M1826 289V302M1901 886V873M1901 289V302M1976 886V873M1976 289V302M2051 886V873M2051 289V302M2126 886V861M2126 289V314
M2201 886V873M2201 289V302M2276 886V873M2276 289V302M2351 886V873M2351 289V302M2426 886V873M2426 289V302M2501 886V861M2501 289V314
M263 318.9H276M2553 318.9H2540M263 348.7H276M2553 348.7H2540M263 378.6H276M2553 378.6H2540M263 408.4H276M2553 408.4H2540
M263 438.3H288M2553 438.3H2528M263 468.1H276M2553 468.1H2540M263 498H276M2553 498H2540M263 527.8H276M2553 527.8H2540M263 557.7H276M2553 557.7H2540
M263 587.5H288M2553 587.5H2528M263 617.4H276M2553 617.4H2540M263 647.2H276M2553 647.2H2540M263 677.1H276M2553 677.1H2540M263 706.9H276M2553 706.9H2540
M263 736.8H288M2553 736.8H2528M263 766.6H276M2553 766.6H2540M263 796.5H276M2553 796.5H2540M263 826.3H276M2553 826.3H2540M263 856.2H276M2553 856.2H2540"/>

<!-- Ticks bottom plot -->
<path stroke="#000" stroke-width="5" stroke-linecap="round" fill="none" d="
M325 1884V1871M325 1287V1300M400 1884V1871M400 1287V1300M475 1884V1871M475 1287V1300M550 1884V1871M550 1287V1300M625 1884V1859M625 1287V1312
M700 1884V1871M700 1287V1300M775 1884V1871M775 1287V1300M850 1884V1871M850 1287V1300M925 1884V1871M925 1287V1300M1000 1884V1859M1000 1287V1312
M1075 1884V1871M1075 1287V1300M1150 1884V1871M1150 1287V1300M1226 1884V1871M1226 1287V1300M1301 1884V1871M1301 1287V1300M1376 1884V1859M1376 1287V1312
M1451 1884V1871M1451 1287V1300M1526 1884V1871M1526 1287V1300M1601 1884V1871M1601 1287V1300M1676 1884V1871M1676 1287V1300M1751 1884V1859M1751 1287V1312
M1826 1884V1871M1826 1287V1300M1901 1884V1871M1901 1287V1300M1976 1884V1871M1976 1287V1300M2051 1884V1871M2051 1287V1300M2126 1884V1859M2126 1287V1312
M2201 1884V1871M2201 1287V1300M2276 1884V1871M2276 1287V1300M2351 1884V1871M2351 1287V1300M2426 1884V1871M2426 1287V1300M2501 1884V1859M2501 1287V1312
M263 1316.9H276M2553 1316.9H2540M263 1346.7H276M2553 1346.7H2540M263 1376.6H276M2553 1376.6H2540M263 1406.4H276M2553 1406.4H2540
M263 1436.3H288M2553 1436.3H2528M263 1466.1H276M2553 1466.1H2540M263 1496H276M2553 1496H2540M263 1525.8H276M2553 1525.8H2540M263 1555.7H276M2553 1555.7H2540
M263 1585.5H288M2553 1585.5H2528M263 1615.4H276M2553 1615.4H2540M263 1645.2H276M2553 1645.2H2540M263 1675.1H276M2553 1675.1H2540M263 1704.9H276M2553 1704.9H2540
M263 1734.8H288M2553 1734.8H2528M263 1764.6H276M2553 1764.6H2540M263 1794.5H276M2553 1794.5H2540M263 1824.3H276M2553 1824.3H2540M263 1854.2H276M2553 1854.2H2540"/>

<!-- Slope labels -->
<text x="288" y="348" font-size="51" textLength="139" lengthAdjust="spacingAndGlyphs">Slope:</text>
<text x="460" y="348" font-size="51" textLength="265" lengthAdjust="spacingAndGlyphs">−2.662e−9</text>
<text x="288" y="1346" font-size="51" textLength="139" lengthAdjust="spacingAndGlyphs">Slope:</text>
<text x="460" y="1346" font-size="51" textLength="267" lengthAdjust="spacingAndGlyphs">−2.176e−9</text>

<!-- X tick labels -->
<g font-size="52" text-anchor="middle">
<text x="625" y="949">1000</text><text x="1000" y="949">2000</text><text x="1376" y="949">3000</text>
<text x="1751" y="949">4000</text><text x="2126" y="949">5000</text><text x="2501" y="949">6000</text>
<text x="625" y="1947">1000</text><text x="1000" y="1947">2000</text><text x="1376" y="1947">3000</text>
<text x="1751" y="1947">4000</text><text x="2126" y="1947">5000</text><text x="2501" y="1947">6000</text>
</g>

<!-- Y tick labels -->
<g font-size="52" text-anchor="middle">
<text transform="translate(230,288) rotate(-90)">2</text>
<text transform="translate(230,436) rotate(-90)">1</text>
<text transform="translate(230,584) rotate(-90)">0</text>
<text transform="translate(230,738) rotate(-90)">−1</text>
<text transform="translate(230,884) rotate(-90)">−2</text>
<text transform="translate(230,1286) rotate(-90)">2</text>
<text transform="translate(230,1434) rotate(-90)">1</text>
<text transform="translate(230,1582) rotate(-90)">0</text>
<text transform="translate(230,1736) rotate(-90)">−1</text>
<text transform="translate(230,1882) rotate(-90)">−2</text>
</g>

<!-- Axis labels -->
<text transform="translate(157,586) rotate(-90)" font-size="52" text-anchor="middle" textLength="538" lengthAdjust="spacingAndGlyphs">Y Axis Error (Arc−sec)</text>
<text transform="translate(157,1584) rotate(-90)" font-size="52" text-anchor="middle" textLength="538" lengthAdjust="spacingAndGlyphs">Z Axis Error (Arc−sec)</text>
<text x="1142" y="1049" font-size="50" textLength="528" lengthAdjust="spacingAndGlyphs">Time (Day of Mission)</text>
<text x="1142" y="2047" font-size="50" textLength="528" lengthAdjust="spacingAndGlyphs">Time (Day of Mission)</text>
</svg>
</body></html>
